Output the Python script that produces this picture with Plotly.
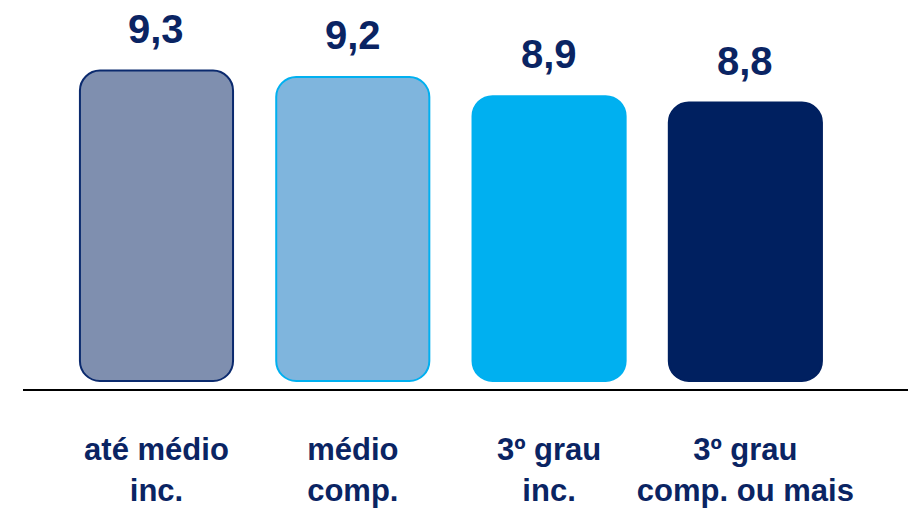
import plotly.graph_objects as go

categories = ["até médio<br>inc.", "médio<br>comp.", "3º grau<br>inc.", "3º grau<br>comp. ou mais"]
values = [9.3, 9.2, 8.9, 8.8]
value_labels = ["9,3", "9,2", "8,9", "8,8"]

fill_colors = ["#7F8FAF", "#7FB5DD", "#00B0F0", "#002060"]
line_colors = ["#0B2A6E", "#00B0F0", "#00B0F0", "#002060"]

BASE = 4.45      # bar floor value
RADIUS = 20
FONT = "Liberation Sans, Arial, sans-serif"
TEXT_COLOR = "#0A2463"

x = list(range(len(categories)))

fig = go.Figure()
fig.add_trace(go.Bar(
    x=x, y=[v - BASE for v in values], base=[BASE] * len(values), width=0.78,
    marker=dict(color=fill_colors, line=dict(color=line_colors, width=2), cornerradius=RADIUS),
    hoverinfo="skip", showlegend=False))

for xi, v, lab in zip(x, values, value_labels):
    fig.add_annotation(x=xi, y=v, text=f"<b>{lab}</b>", showarrow=False,
                       yanchor="bottom", yshift=18,
                       font=dict(family=FONT, size=40, color=TEXT_COLOR))

fig.update_layout(
    width=916, height=512,
    margin=dict(l=15, r=0, t=0, b=131),
    paper_bgcolor="white", plot_bgcolor="white",
    barmode="overlay",
    xaxis=dict(
        tickmode="array", tickvals=x, ticktext=[f"<b>{c}</b>" for c in categories],
        range=[-0.68, 3.91], showline=True, linecolor="black", linewidth=2,
        showgrid=False, zeroline=False, ticks="", ticklabelstandoff=32,
        tickfont=dict(family=FONT, size=31, color=TEXT_COLOR)),
    yaxis=dict(range=[4.325, 10.278], visible=False, showgrid=False, zeroline=False),
)

fig.write_html("out.html")
